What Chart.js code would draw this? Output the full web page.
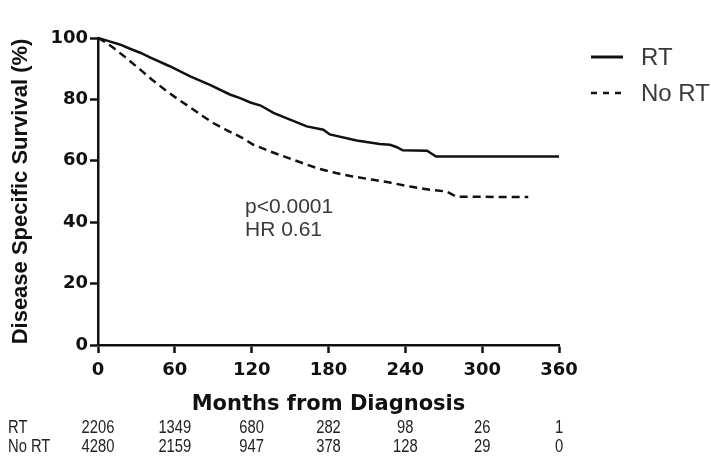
<!DOCTYPE html>
<html>
<head>
<meta charset="utf-8">
<script src="https://cdn.jsdelivr.net/npm/chart.js@4.4.1/dist/chart.umd.min.js"></script>
<style>
html,body{margin:0;padding:0;background:#fff;}
#wrap{width:711px;height:462px;position:relative;}
</style>
</head>
<body>
<div id="wrap"><canvas id="c" width="711" height="462"></canvas></div>
<script>
// ---- data ----
const monthsRT   = [0, 9, 17, 25, 33, 41, 56, 72, 87, 103, 111, 119, 127, 137, 150, 163, 176, 181, 202, 220, 228, 233, 238, 257, 264, 360];
const survRT     = [100, 98.9, 97.9, 96.5, 95.2, 93.6, 90.8, 87.5, 84.8, 81.6, 80.4, 79.0, 78.0, 75.6, 73.4, 71.2, 70.1, 68.6, 66.6, 65.5, 65.2, 64.5, 63.4, 63.3, 61.4, 61.4];
const monthsNoRT = [0, 6, 12, 22, 33, 42, 52, 63, 71, 82, 90, 100, 113, 121, 134, 152, 171, 186, 199, 215, 228, 244, 259, 272, 280, 336];
const survNoRT   = [100, 98.6, 96.8, 93.5, 89.7, 86.5, 83.2, 79.9, 77.7, 74.5, 72.3, 70.1, 67.4, 65.3, 63.1, 60.4, 57.6, 56.0, 54.9, 53.8, 52.9, 51.6, 50.6, 50.0, 48.3, 48.2];
const riskMonths = [0, 60, 120, 180, 240, 300, 360];
const riskRT     = [2206, 1349, 680, 282, 98, 26, 1];
const riskNoRT   = [4280, 2159, 947, 378, 128, 29, 0];
const seriesNames = ['RT', 'No RT'];
const annotationLines = ['p<0.0001', 'HR 0.61'];

const toXY = (xs, ys) => xs.map((x, i) => ({x: x, y: ys[i]}));

const extras = {
  id: 'extras',
  afterDraw(chart) {
    const ctx = chart.ctx;
    const xs = chart.scales.x;
    // risk table (narrow text)
    const sx = 0.82;
    ctx.save();
    ctx.fillStyle = '#222';
    ctx.font = '18px "Liberation Sans", Arial, sans-serif';
    ctx.textBaseline = 'middle';
    ctx.scale(sx, 1);
    ctx.textAlign = 'left';
    ctx.fillText(seriesNames[0], 8 / sx, 428);
    ctx.fillText(seriesNames[1], 8 / sx, 447);
    ctx.textAlign = 'center';
    riskMonths.forEach((m, i) => {
      const px = xs.getPixelForValue(m) / sx;
      ctx.fillText(String(riskRT[i]), px, 428);
      ctx.fillText(String(riskNoRT[i]), px, 447);
    });
    ctx.restore();
    ctx.save();
    // legend
    ctx.strokeStyle = '#111';
    ctx.lineWidth = 3;
    ctx.setLineDash([]);
    ctx.beginPath(); ctx.moveTo(591, 57); ctx.lineTo(623, 57); ctx.stroke();
    ctx.lineWidth = 2.5;
    ctx.setLineDash([6, 6]);
    ctx.beginPath(); ctx.moveTo(591, 93); ctx.lineTo(623, 93); ctx.stroke();
    ctx.setLineDash([]);
    ctx.fillStyle = '#3a3a3a';
    ctx.font = '24px "Liberation Sans", Arial, sans-serif';
    ctx.textAlign = 'left';
    ctx.textBaseline = 'middle';
    ctx.fillText(seriesNames[0], 641, 58);
    ctx.fillText(seriesNames[1], 641, 94);
    // annotation
    ctx.fillStyle = '#3a3a3a';
    ctx.font = '21px "Liberation Sans", Arial, sans-serif';
    ctx.textBaseline = 'alphabetic';
    ctx.fillText(annotationLines[0], 245, 213);
    ctx.fillText(annotationLines[1], 245, 236);
    ctx.restore();
  }
};

new Chart(document.getElementById('c'), {
  type: 'line',
  data: {
    datasets: [
      {label: seriesNames[0], data: toXY(monthsRT, survRT), borderColor: '#111', borderWidth: 2.5, pointRadius: 0, tension: 0, fill: false, clip: 6},
      {label: seriesNames[1], data: toXY(monthsNoRT, survNoRT), borderColor: '#111', borderWidth: 2.5, borderDash: [8, 5], pointRadius: 0, tension: 0, fill: false, clip: 6}
    ]
  },
  options: {
    responsive: false,
    animation: false,
    events: [],
    layout: {padding: {left: 0, top: 38, right: 152, bottom: 0}},
    plugins: {legend: {display: false}, tooltip: {enabled: false}},
    scales: {
      x: {
        type: 'linear', min: 0, max: 360,
        ticks: {stepSize: 60, color: '#111', padding: 7, font: {family: '"DejaVu Sans"', weight: 'bold', size: 18}},
        grid: {display: true, drawOnChartArea: false, drawTicks: true, tickLength: 8, tickWidth: 2.5, tickColor: '#111'},
        border: {display: true, color: '#111', width: 2.5},
        title: {display: true, text: 'Months from Diagnosis', color: '#111', font: {family: '"DejaVu Sans"', weight: 'bold', size: 21}, padding: {top: 0, bottom: 45}},
        afterFit: (s) => { s.height = 117; }
      },
      y: {
        min: 0, max: 100,
        ticks: {stepSize: 20, color: '#111', padding: 2, font: {family: '"DejaVu Sans"', weight: 'bold', size: 18}},
        grid: {display: true, drawOnChartArea: false, drawTicks: true, tickLength: 8, tickWidth: 2.5, tickColor: '#111'},
        border: {display: true, color: '#111', width: 2.5},
        title: {display: true, text: 'Disease Specific Survival (%)', color: '#111', font: {family: '"Liberation Sans", Arial, sans-serif', weight: 'bold', size: 22}, padding: {top: 8, bottom: 0}},
        afterFit: (s) => { s.width = 98; }
      }
    }
  },
  plugins: [extras]
});
</script>
</body>
</html>
